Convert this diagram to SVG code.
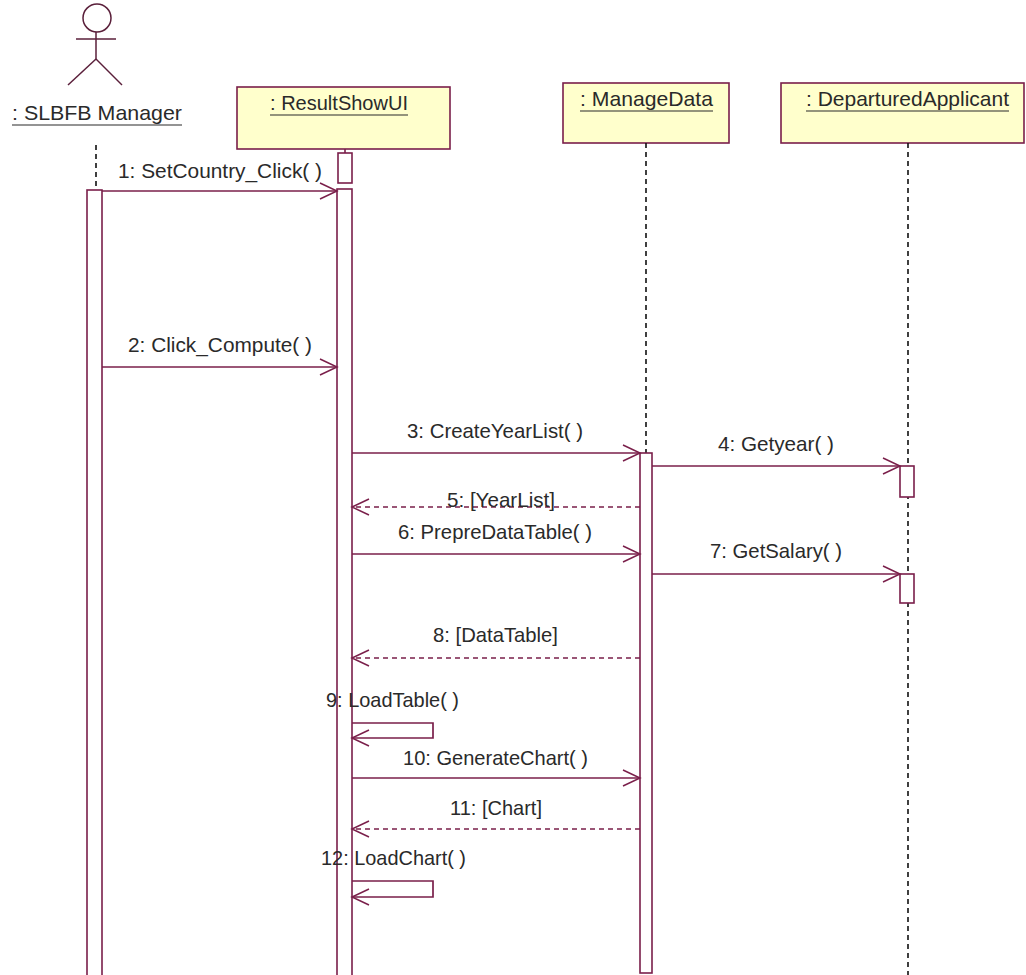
<svg xmlns="http://www.w3.org/2000/svg" width="1026" height="975" viewBox="0 0 1026 975">
<style>
 .t{font-family:"Liberation Sans",Arial,sans-serif;font-size:21px;fill:#2a2a2a}
 .box{fill:#ffffcc;stroke:#7a1f4a;stroke-width:1.6}
 .act{fill:#ffffff;stroke:#7a1f4a;stroke-width:1.6}
 .life{stroke:#111111;stroke-width:1.6;stroke-dasharray:5 4;fill:none}
 .msg{stroke:#7a1f4a;stroke-width:1.7;fill:none;marker-end:url(#arr)}
 .ret{stroke:#7a1f4a;stroke-width:1.4;fill:none;stroke-dasharray:5 4;marker-end:url(#arr)}
 .ul{stroke:#2a2a2a;stroke-width:1.2}
 .fig{stroke:#5a1f3a;stroke-width:1.5;fill:none}
</style>
<defs>
 <marker id="arr" markerUnits="userSpaceOnUse" markerWidth="20" markerHeight="20" refX="17" refY="8" orient="auto" overflow="visible">
  <path d="M0,0 L17,8 L0,16" fill="none" stroke="#7a1f4a" stroke-width="1.5" stroke-dasharray="none"/>
 </marker>
</defs>
<rect width="1026" height="975" fill="#ffffff"/>

<g id="actor-manager">
 <circle class="fig" cx="97" cy="18" r="14"/>
 <line class="fig" x1="76" y1="39" x2="116" y2="39"/>
 <line class="fig" x1="96" y1="32" x2="96" y2="59"/>
 <line class="fig" x1="96" y1="59" x2="68" y2="85"/>
 <line class="fig" x1="96" y1="59" x2="122" y2="85"/>
 <text class="t" x="12" y="120" textLength="170" lengthAdjust="spacingAndGlyphs">: SLBFB Manager</text>
 <line class="ul" x1="12" y1="125" x2="182" y2="125"/>
 <line class="life" x1="96" y1="145" x2="96" y2="190"/>
 <rect class="act" x="87" y="190" width="15" height="800"/>
</g>

<g id="obj-resultshowui">
 <rect class="box" x="237" y="87" width="213" height="62"/>
 <text class="t" x="270" y="110" textLength="138" lengthAdjust="spacingAndGlyphs">: ResultShowUI</text>
 <line class="ul" x1="270" y1="115" x2="408" y2="115"/>
 <line stroke="#7a1f4a" stroke-width="1.6" x1="345" y1="149" x2="345" y2="153"/>
 <rect class="act" x="338" y="153" width="14" height="30"/>
 <rect class="act" x="337" y="189" width="15" height="800"/>
</g>

<g id="obj-managedata">
 <rect class="box" x="563" y="83" width="166" height="60"/>
 <text class="t" x="580" y="106" textLength="133" lengthAdjust="spacingAndGlyphs">: ManageData</text>
 <line class="ul" x1="580" y1="111" x2="713" y2="111"/>
 <line class="life" x1="646" y1="143" x2="646" y2="453"/>
 <rect class="act" x="640" y="453" width="12" height="520"/>
</g>

<g id="obj-departuredapplicant">
 <rect class="box" x="781" y="83" width="243" height="60"/>
 <text class="t" x="806" y="106" textLength="203" lengthAdjust="spacingAndGlyphs">: DeparturedApplicant</text>
 <line class="ul" x1="806" y1="111" x2="1009" y2="111"/>
 <line class="life" x1="908" y1="143" x2="908" y2="975"/>
 <rect class="act" x="900" y="466" width="14" height="31"/>
 <rect class="act" x="900" y="574" width="14" height="29"/>
</g>

<g id="connectors">
 <path class="msg" d="M102,191 H337"/>
 <text class="t" x="118" y="178" textLength="204" lengthAdjust="spacingAndGlyphs">1: SetCountry_Click( )</text>
 <path class="msg" d="M102,367 H337"/>
 <text class="t" x="128" y="352" textLength="184" lengthAdjust="spacingAndGlyphs">2: Click_Compute( )</text>
 <path class="msg" d="M352,453 H640"/>
 <text class="t" x="407" y="438" textLength="176" lengthAdjust="spacingAndGlyphs">3: CreateYearList( )</text>
 <path class="msg" d="M652,466 H900"/>
 <text class="t" x="718" y="451" textLength="116" lengthAdjust="spacingAndGlyphs">4: Getyear( )</text>
 <path class="ret" d="M640,507 H352"/>
 <text class="t" x="447" y="507" textLength="108" lengthAdjust="spacingAndGlyphs">5: [YearList]</text>
 <path class="msg" d="M352,554 H640"/>
 <text class="t" x="398" y="539" textLength="194" lengthAdjust="spacingAndGlyphs">6: PrepreDataTable( )</text>
 <path class="msg" d="M652,574 H900"/>
 <text class="t" x="710" y="558" textLength="132" lengthAdjust="spacingAndGlyphs">7: GetSalary( )</text>
 <path class="ret" d="M640,658 H352"/>
 <text class="t" x="433" y="642" textLength="125" lengthAdjust="spacingAndGlyphs">8: [DataTable]</text>
 <path class="msg" d="M352,723 H433 V738 H352"/>
 <text class="t" x="326" y="707" textLength="133" lengthAdjust="spacingAndGlyphs">9: LoadTable( )</text>
 <path class="msg" d="M352,778 H640"/>
 <text class="t" x="403" y="765" textLength="185" lengthAdjust="spacingAndGlyphs">10: GenerateChart( )</text>
 <path class="ret" d="M640,829 H352"/>
 <text class="t" x="450" y="815" textLength="92" lengthAdjust="spacingAndGlyphs">11: [Chart]</text>
 <path class="msg" d="M352,881 H433 V897 H352"/>
 <text class="t" x="321" y="865" textLength="145" lengthAdjust="spacingAndGlyphs">12: LoadChart( )</text>
</g>
</svg>
